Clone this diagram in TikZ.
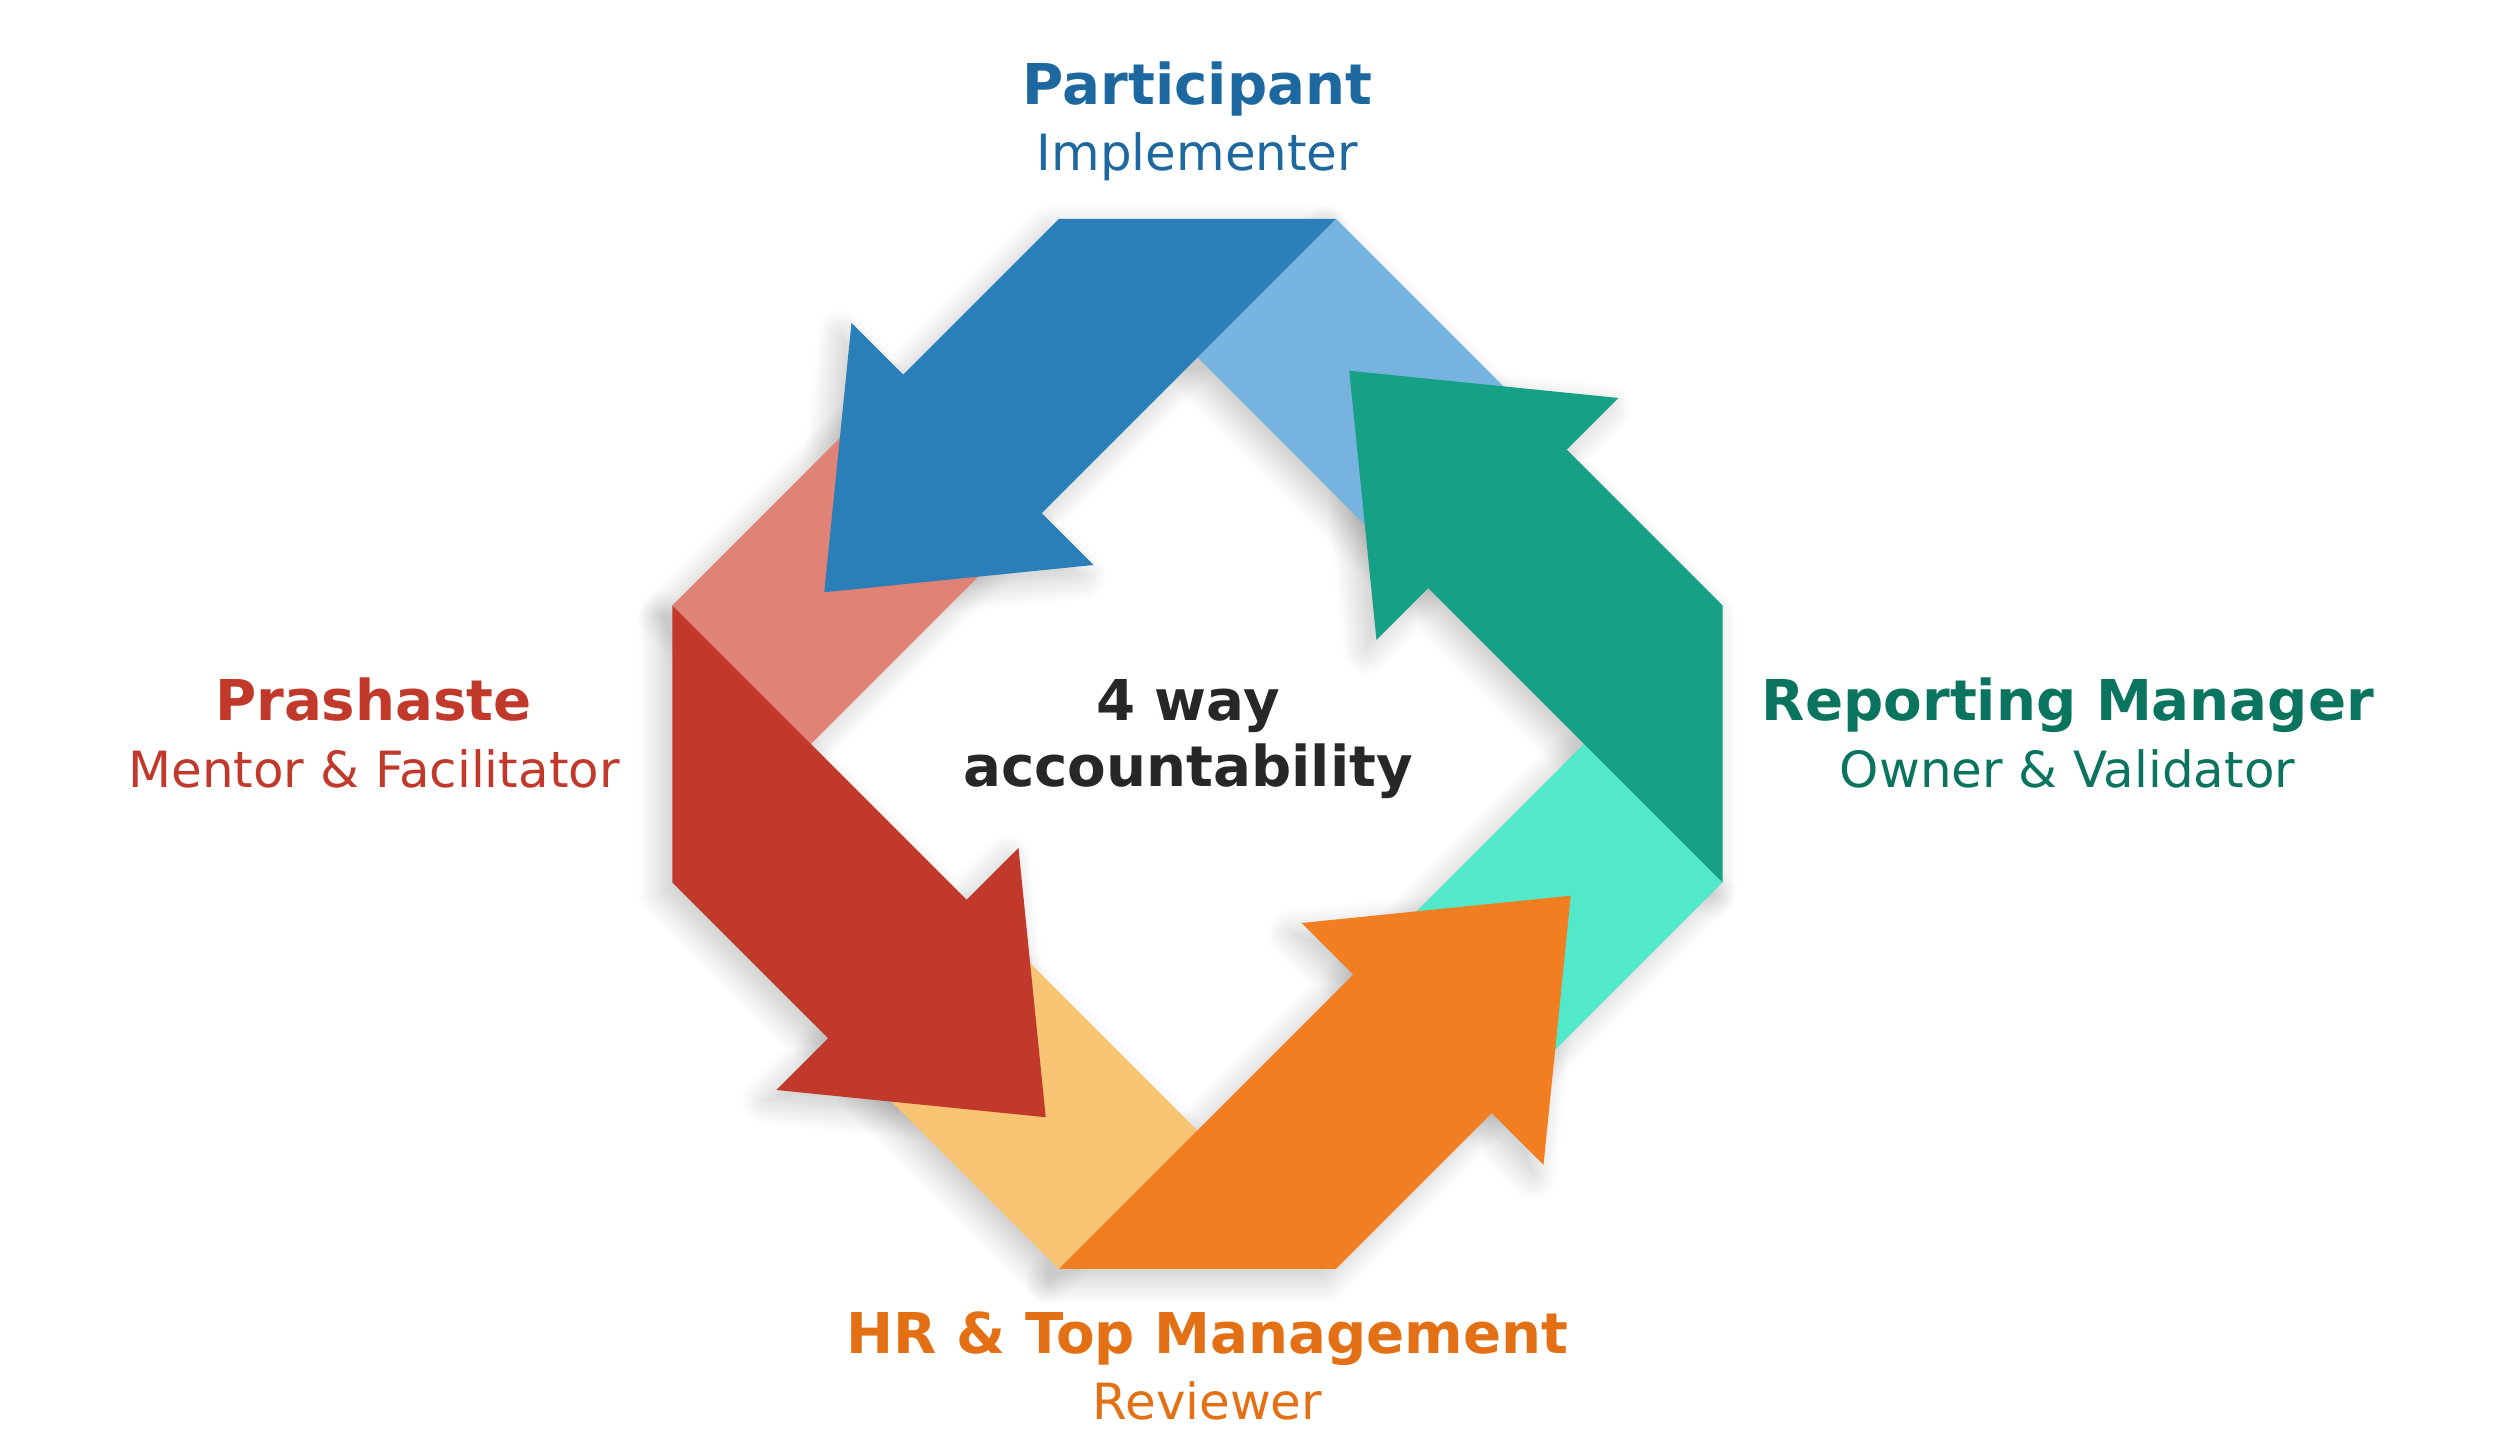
\documentclass[tikz,border=0pt]{standalone}
\usepackage{fontspec}
\setmainfont{DejaVu Sans}
\usepackage{tikz}
\usetikzlibrary{shadows.blur}
\definecolor{partdark}{HTML}{2B7FB9}
\definecolor{partlight}{HTML}{76B4DF}
\definecolor{parttext}{HTML}{1D689E}
\definecolor{prashdark}{HTML}{C0392B}
\definecolor{prashlight}{HTML}{E18276}
\definecolor{prashtext}{HTML}{C0392B}
\definecolor{hrdark}{HTML}{F17F21}
\definecolor{hrlight}{HTML}{F7C474}
\definecolor{hrtext}{HTML}{E37014}
\definecolor{repdark}{HTML}{16A085}
\definecolor{replight}{HTML}{52E8CA}
\definecolor{reptext}{HTML}{0A745E}
\definecolor{coretext}{HTML}{262828}
\tikzstyle{ribbonshade} = [draw=none, blur shadow={shadow xshift=-3pt, shadow yshift=-3pt, shadow blur radius=7pt, shadow blur steps=14, shadow opacity=22}]
\tikzstyle{role} = [font=\bfseries\fontsize{16}{19}\selectfont, anchor=base, inner sep=0pt]
\tikzstyle{duty} = [font=\fontsize{14.2}{17}\selectfont, anchor=base, inner sep=0pt]

\begin{document}
\begin{tikzpicture}
			\useasboundingbox (-11.975,-7.11) rectangle (12.985,7.44);
			% corner points of each fold and arrow, turned by quarter turns
			\foreach \ang in {0,90,180,270}{
				\begin{scope}[rotate=\ang]
					\coordinate (f1-\ang) at (1.385,5.25);
					\coordinate (f2-\ang) at (0,3.865);
					\coordinate (f3-\ang) at (2.3075,1.5575);
					\coordinate (f4-\ang) at (3.6925,2.9425);
					\coordinate (a1-\ang) at (-1.385,5.25);
					\coordinate (a2-\ang) at (1.385,5.25);
					\coordinate (a3-\ang) at (0,3.865);
					\coordinate (a4-\ang) at (-1.5575,2.3075);
					\coordinate (a5-\ang) at (-1.04,1.79);
					\coordinate (a6-\ang) at (-3.7325,1.5175);
					\coordinate (a7-\ang) at (-3.46,4.21);
					\coordinate (a8-\ang) at (-2.9425,3.6925);
				\end{scope}
				\path[ribbonshade] (f1-\ang) -- (f2-\ang) -- (f3-\ang) -- (f4-\ang) -- cycle;
				\path[ribbonshade] (a1-\ang) -- (a2-\ang) -- (a3-\ang) -- (a4-\ang) -- (a5-\ang) -- (a6-\ang) -- (a7-\ang) -- (a8-\ang) -- cycle;
			}
			% light folds under the heads
			\foreach \ang/\light in {0/partlight, 90/prashlight, 180/hrlight, 270/replight}
				\fill[\light] (f1-\ang) -- (f2-\ang) -- (f3-\ang) -- (f4-\ang) -- cycle;
			% the four arrows
			\foreach \ang/\dark in {0/partdark, 90/prashdark, 180/hrdark, 270/repdark}
				\fill[\dark] (a1-\ang) -- (a2-\ang) -- (a3-\ang) -- (a4-\ang) -- (a5-\ang) -- (a6-\ang) -- (a7-\ang) -- (a8-\ang) -- cycle;
			\node[role, text=coretext] (core) at (-0.095,0.233) {4 way};
			\node[role, text=coretext] (acc) at (-0.095,-0.427) {accountability};
			\node[role, text=parttext] (part) at (0,6.39) {Participant};
			\node[duty, text=parttext] (impl) at (0,5.73) {Implementer};
			\node[role, text=prashtext] (prash) at (-8.24,0.23) {Prashaste};
			\node[duty, text=prashtext] (mentor) at (-8.235,-0.437) {Mentor \& Facilitator};
			\node[role, text=reptext] (rep) at (8.705,0.23) {Reporting Manager};
			\node[duty, text=reptext] (owner) at (8.70,-0.437) {Owner \& Validator};
			\node[role, text=hrtext] (hr) at (0.1,-6.09) {HR \& Top Management};
			\node[duty, text=hrtext] (rev) at (0.1,-6.76) {Reviewer};
		\end{tikzpicture}
\end{document}
